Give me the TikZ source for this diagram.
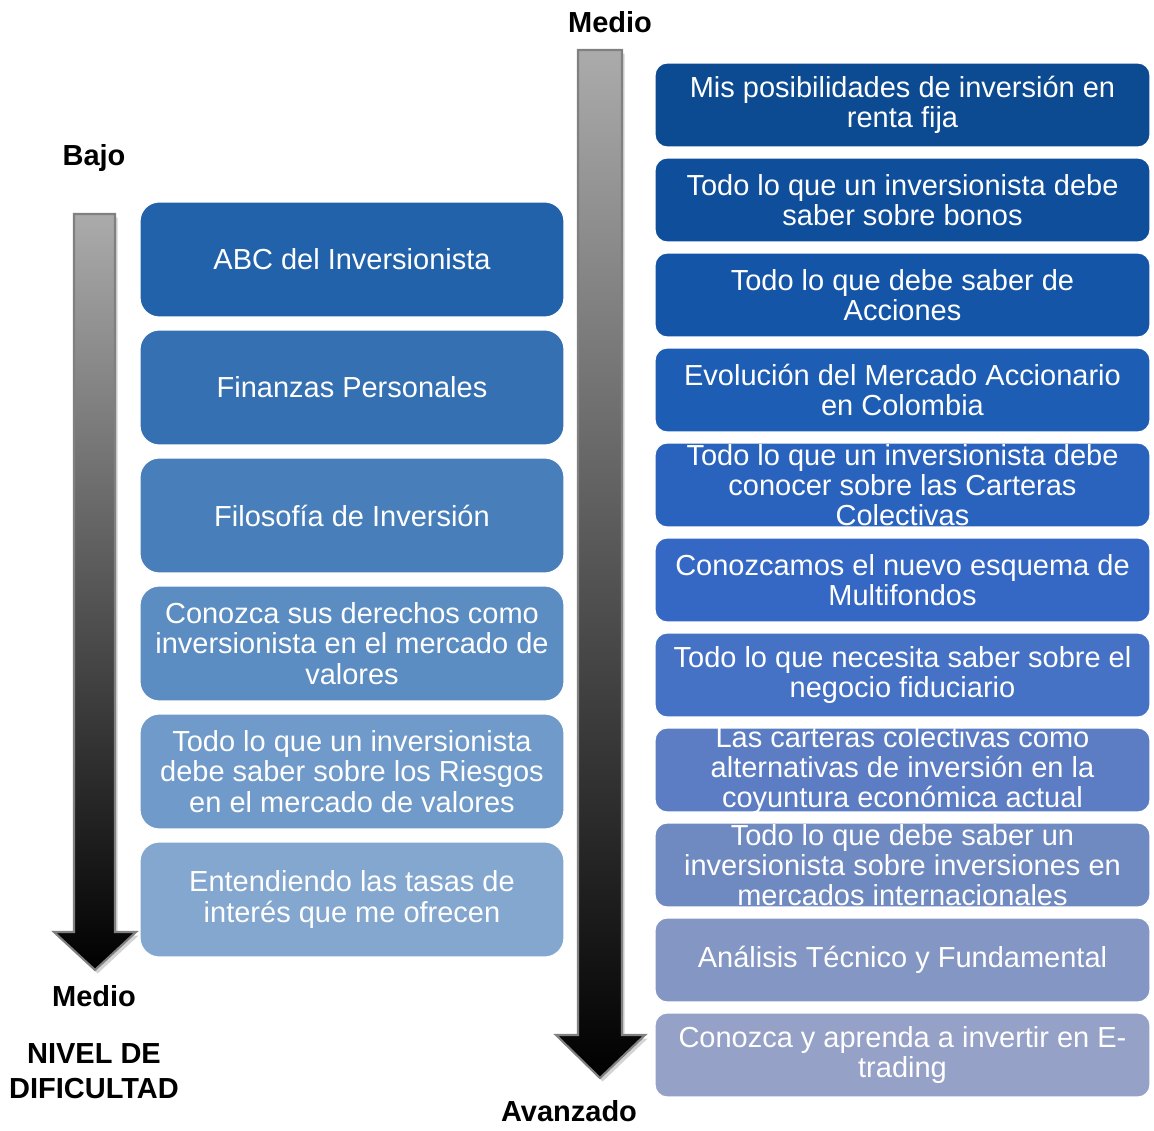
\documentclass[tikz,border=0pt]{standalone}
\usepackage{fontspec}
\setmainfont{Liberation Sans}
\usetikzlibrary{shadows}

% colours of the two columns
\definecolor{lone}{HTML}{2262AA}
\definecolor{ltwo}{HTML}{3570B2}
\definecolor{lthree}{HTML}{487FBA}
\definecolor{lfour}{HTML}{5B8CC2}
\definecolor{lfive}{HTML}{6F9AC9}
\definecolor{lsix}{HTML}{84A7CF}
\definecolor{rone}{HTML}{0C4A91}
\definecolor{rtwo}{HTML}{0F4E9B}
\definecolor{rthree}{HTML}{1555A8}
\definecolor{rfour}{HTML}{1E5DB4}
\definecolor{rfive}{HTML}{2A63BD}
\definecolor{rsix}{HTML}{3468C4}
\definecolor{rseven}{HTML}{4672C6}
\definecolor{reight}{HTML}{5C7DC4}
\definecolor{rnine}{HTML}{6F89C1}
\definecolor{rten}{HTML}{8496C3}
\definecolor{releven}{HTML}{96A1C7}

\begin{document}
\begin{tikzpicture}[x=0.02cm, y=-0.02cm,
    lbox/.style={rectangle, rounded corners=11pt, draw=white, line width=0.6pt,
      minimum width=8.48cm, minimum height=2.3cm, inner sep=0pt},
    rbox/.style={rectangle, rounded corners=7pt, draw=white, line width=0.6pt,
      minimum width=9.9cm, minimum height=1.68cm, inner sep=0pt},
    btext/.style={text=white, align=center, inner sep=0pt,
      font=\fontsize{16.5}{17.2}\selectfont},
    level/.style={anchor=base, font=\bfseries\fontsize{16.5}{18}\selectfont},
    bar/.style={top color=black!33, bottom color=black, draw=black!50,
      line width=1.2pt, drop shadow={opacity=0.35, shadow xshift=1.5pt, shadow yshift=-2pt}}]
    \useasboundingbox (0,0) rectangle (1154,1131);

    % left arrow
    \shade[bar] (74,214) -- (115,214) -- (115,932) -- (136,932) -- (95,970)
      -- (54,932) -- (74,932) -- cycle;
    % right arrow
    \shade[bar] (578,50) -- (622,50) -- (622,1035) -- (645,1035) -- (600,1078)
      -- (556,1035) -- (578,1035) -- cycle;

    % labels
    \node[level] (bajo) at (94,166) {Bajo};
    \node[level] (medioizq) at (94,1007) {Medio};
    \node[level] (nivel) at (94,1063) {NIVEL DE};
    \node[level] (dificultad) at (94,1098) {DIFICULTAD};
    \node[level] (medioder) at (610,33) {Medio};
    \node[level] (avanzado) at (569,1121) {Avanzado};

    % left column
    \node[lbox, fill=lone] (l1) at (352,259.5) {};
    \node[btext] (l1t) at (l1) {ABC del Inversionista};
    \node[lbox, fill=ltwo] (l2) at (352,387.5) {};
    \node[btext] (l2t) at (l2) {Finanzas Personales};
    \node[lbox, fill=lthree] (l3) at (352,515.5) {};
    \node[btext] (l3t) at (l3) {Filosofía de Inversión};
    \node[lbox, fill=lfour] (l4) at (352,643.5) {};
    \node[btext] (l4t) at (l4) {Conozca sus derechos como\\inversionista en el mercado de\\valores};
    \node[lbox, fill=lfive] (l5) at (352,771.5) {};
    \node[btext] (l5t) at (l5) {Todo lo que un inversionista\\debe saber sobre los Riesgos\\en el mercado de valores};
    \node[lbox, fill=lsix] (l6) at (352,899.5) {};
    \node[btext] (l6t) at (l6) {Entendiendo las tasas de\\interés que me ofrecen};

    % right column
    \node[rbox, fill=rone] (r1) at (902.5,105) {};
    \node[btext] (r1t) at (r1) {Mis posibilidades de inversión en\\renta fija};
    \node[rbox, fill=rtwo] (r2) at (902.5,200) {};
    \node[btext] (r2t) at (r2) {Todo lo que un inversionista debe\\saber sobre bonos};
    \node[rbox, fill=rthree] (r3) at (902.5,295) {};
    \node[btext] (r3t) at (r3) {Todo lo que debe saber de\\Acciones};
    \node[rbox, fill=rfour] (r4) at (902.5,390) {};
    \node[btext] (r4t) at (r4) {Evolución del Mercado Accionario\\en Colombia};
    \node[rbox, fill=rfive] (r5) at (902.5,485) {};
    \node[btext] (r5t) at (r5) {Todo lo que un inversionista debe\\conocer sobre las Carteras\\Colectivas};
    \node[rbox, fill=rsix] (r6) at (902.5,580) {};
    \node[btext] (r6t) at (r6) {Conozcamos el nuevo esquema de\\Multifondos};
    \node[rbox, fill=rseven] (r7) at (902.5,675) {};
    \node[btext] (r7t) at (r7) {Todo lo que necesita saber sobre el\\negocio fiduciario};
    \node[rbox, fill=reight] (r8) at (902.5,770) {};
    \node[btext] (r8t) at (r8) {Las carteras colectivas como\\alternativas de inversión en la\\coyuntura económica actual};
    \node[rbox, fill=rnine] (r9) at (902.5,865) {};
    \node[btext] (r9t) at (r9) {Todo lo que debe saber un\\inversionista sobre inversiones en\\mercados internacionales};
    \node[rbox, fill=rten] (r10) at (902.5,960) {};
    \node[btext] (r10t) at (r10) {Análisis Técnico y Fundamental};
    \node[rbox, fill=releven] (r11) at (902.5,1055) {};
    \node[btext] (r11t) at (r11) {Conozca y aprenda a invertir en E-\\trading};
\end{tikzpicture}
\end{document}
